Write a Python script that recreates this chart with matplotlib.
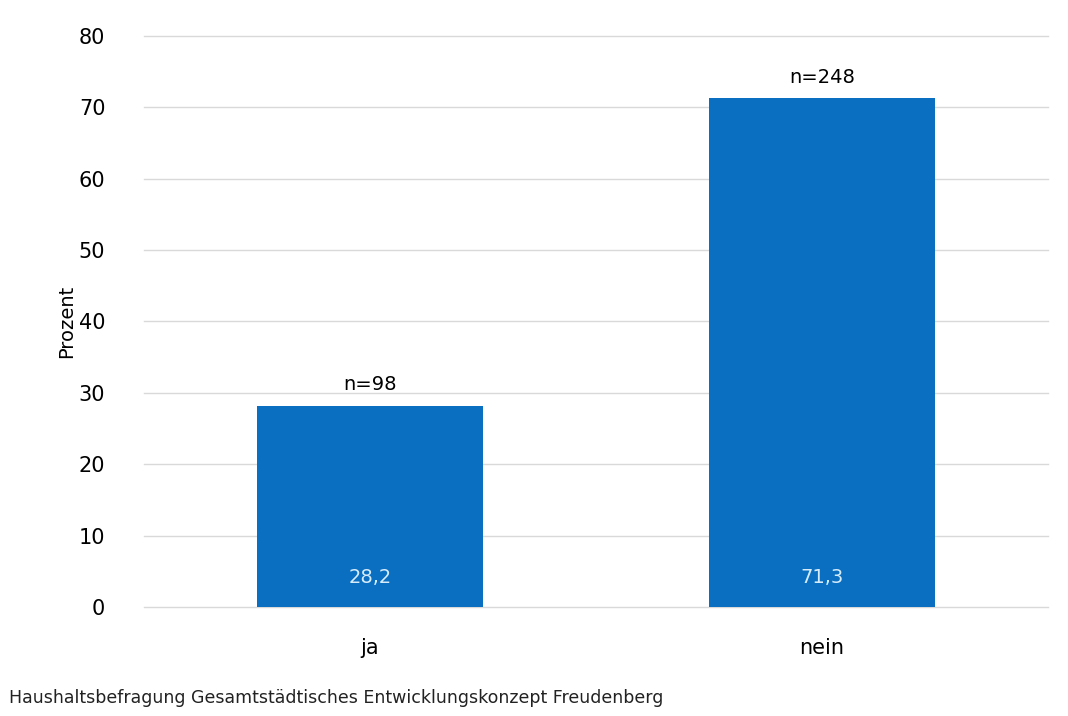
import matplotlib.pyplot as plt
import numpy as np

# Daten
kategorien = ['ja', 'nein']
prozent = [28.2, 71.3]
anzahl = ['n=98', 'n=248']
yticks = [0, 10, 20, 30, 40, 50, 60, 70, 80]

fig = plt.figure(figsize=(10.68, 7.16), dpi=100)
ax = fig.add_axes([0.135, 0.152, 0.846, 0.798])

x = np.arange(len(kategorien))
bars = ax.bar(x, prozent, width=0.5, color='#0b6fc1', zorder=3)

for b, val, n in zip(bars, prozent, anzahl):
    cx = b.get_x() + b.get_width() / 2
    ax.text(cx, 4.2, f'{val:.1f}'.replace('.', ','), ha='center', va='center',
            color='#d6ecfb', fontsize=14, zorder=4)
    ax.text(cx, val + 1.6, n, ha='center', va='bottom', color='black', fontsize=14)

ax.set_xlim(-0.5, 1.5)
ax.set_ylim(0, 80)
ax.set_yticks(yticks)
ax.set_xticks(x)
ax.set_xticklabels(kategorien, fontsize=15)
ax.tick_params(axis='y', labelsize=15, length=0, pad=28)
ax.tick_params(axis='x', length=0, pad=22)
ax.yaxis.grid(True, color='#d9d9d9', linewidth=1, zorder=0, clip_on=False)
for s in ax.spines.values():
    s.set_visible(False)
ax.set_ylabel('Prozent', fontsize=14, labelpad=2)

fig.text(0.008, 0.018, 'Haushaltsbefragung Gesamtstädtisches Entwicklungskonzept Freudenberg',
         fontsize=12.5, color='#222222')

fig.savefig('out.png', dpi=100)
